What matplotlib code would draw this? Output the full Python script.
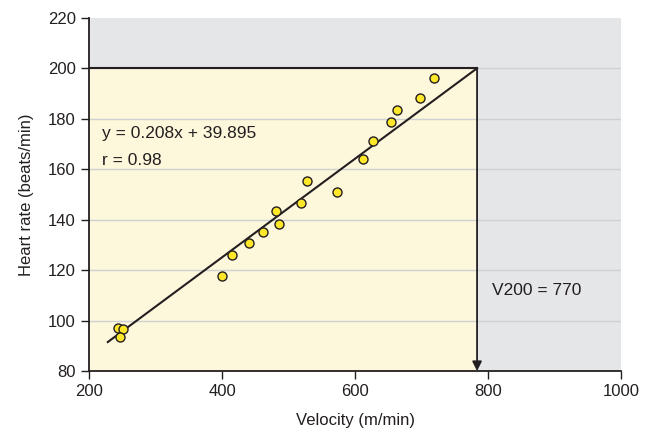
import matplotlib
matplotlib.use('Agg')
import matplotlib.pyplot as plt
from matplotlib.patches import Rectangle

plt.rcParams['font.family'] = ['Liberation Sans', 'DejaVu Sans']

velocity = [243, 251, 246, 399, 415, 440, 461, 481, 485, 518,
            528, 573, 612, 627, 654, 663, 697, 719]
heart_rate = [96.9, 96.5, 93.5, 117.6, 125.8, 130.8, 135.2, 143.6, 138.1, 146.7,
              155.2, 151.0, 164.2, 171.2, 178.6, 183.6, 188.2, 196.3]

fit_x = [228, 783]
fit_y = [91.5, 200]
v200 = 783
hr_max = 200

xticks = [200, 400, 600, 800, 1000]
yticks = [80, 100, 120, 140, 160, 180, 200, 220]

fig = plt.figure(figsize=(6.46, 4.34), dpi=100)
ax = fig.add_axes([0.138, 0.145, 0.824, 0.814])
ax.set_xlim(200, 1000)
ax.set_ylim(80, 220)
ax.set_facecolor('#e5e6e8')

ax.add_patch(Rectangle((200, 80), v200 - 200, hr_max - 80,
                       facecolor='#fdf8dc', edgecolor='none', zorder=0.5))
for yv in yticks[1:-1]:
    ax.axhline(yv, color='#cfd0d2', lw=1, zorder=0.8)

ax.plot([200, v200], [hr_max, hr_max], color='#231f20', lw=1.5, zorder=2)
ax.annotate('', xy=(v200, 80), xytext=(v200, hr_max),
            arrowprops=dict(arrowstyle='-|>', color='#231f20', lw=1.3,
                            mutation_scale=14, shrinkA=0, shrinkB=0), zorder=2)
ax.plot(fit_x, fit_y, color='#231f20', lw=1.5, zorder=3)
ax.plot(velocity, heart_rate, 'o', ms=6.5, mfc='#ffe82a', mec='#231f20',
        mew=1, zorder=4)

ax.text(220, 174.3, 'y = 0.208x + 39.895', fontsize=12.5, color='#231f20', va='center')
ax.text(220, 163.6, 'r = 0.98', fontsize=12.5, color='#231f20', va='center')
ax.text(806, 111.8, 'V200 = 770', fontsize=12.5, color='#231f20', va='center')

ax.set_xticks(xticks)
ax.set_yticks(yticks)
ax.tick_params(labelsize=12, colors='#231f20', length=6, width=1)
for s in ['top', 'right']:
    ax.spines[s].set_visible(False)
for s in ['left', 'bottom']:
    ax.spines[s].set_color('#231f20')
    ax.spines[s].set_linewidth(1.3)
ax.set_xlabel('Velocity (m/min)', fontsize=12, color='#231f20', labelpad=10)
ax.set_ylabel('Heart rate (beats/min)', fontsize=12, color='#231f20', labelpad=10)

plt.savefig('out.png', dpi=100)
